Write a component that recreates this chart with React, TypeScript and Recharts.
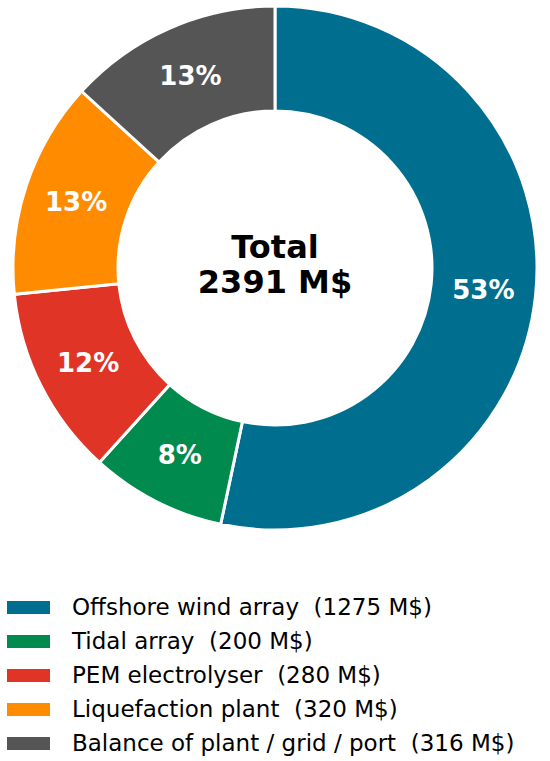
import { Cell, Pie, PieChart } from "recharts";

const categories = [
  "Offshore wind array",
  "Tidal array",
  "PEM electrolyser",
  "Liquefaction plant",
  "Balance of plant / grid / port",
];
const costs = [1275, 200, 280, 320, 316];
const colors = ["#006f8f", "#008a4e", "#e03426", "#ff8c00", "#555555"];

const total = costs.reduce((a, b) => a + b, 0);
const data = categories.map((name, i) => ({ name, value: costs[i] }));

const FONT = "'DejaVu Sans', sans-serif";
const RAD = Math.PI / 180;
const CX = 275;
const CY = 268;

// percentage in the middle of each ring segment
function SliceLabel(props: any) {
  const { cx, cy, midAngle, innerRadius, outerRadius, percent } = props;
  const r = (innerRadius + outerRadius) / 2;
  const x = cx + r * Math.cos(-midAngle * RAD);
  const y = cy + r * Math.sin(-midAngle * RAD);
  return (
    <text
      x={x}
      y={y}
      fill="#ffffff"
      fontFamily={FONT}
      fontWeight="bold"
      fontSize={26}
      textAnchor="middle"
      dominantBaseline="central"
    >
      {Math.round(percent * 100)}%
    </text>
  );
}

export default function App() {
  return (
    <div
      style={{
        position: "absolute",
        left: 0,
        top: 0,
        width: 550,
        height: 761,
        background: "#fff",
        fontFamily: FONT,
      }}
    >
      <PieChart width={550} height={540} margin={{ top: 0, right: 0, bottom: 0, left: 0 }}>
        <Pie
          data={data}
          dataKey="value"
          nameKey="name"
          cx={CX}
          cy={CY}
          innerRadius={157}
          outerRadius={262}
          startAngle={90}
          endAngle={-270}
          stroke="#ffffff"
          strokeWidth={3}
          label={SliceLabel}
          labelLine={false}
          isAnimationActive={false}
        >
          {data.map((d, i) => (
            <Cell key={d.name} fill={colors[i]} />
          ))}
        </Pie>
      </PieChart>
      {/* total in the hole of the donut */}
      <div
        style={{
          position: "absolute",
          left: CX - 120,
          top: CY - 38,
          width: 240,
          textAlign: "center",
          fontSize: 32,
          fontWeight: "bold",
          lineHeight: "35px",
          color: "#000",
        }}
      >
        <div>Total</div>
        <div>{total} M$</div>
      </div>
      <div style={{ position: "absolute", left: 7, top: 590 }}>
        {data.map((d, i) => (
          <div
            key={d.name}
            style={{ display: "flex", alignItems: "center", height: 34 }}
          >
            <div style={{ width: 43, height: 13, background: colors[i] }} />
            <span
              style={{
                marginLeft: 22,
                fontSize: 23,
                color: "#000",
                whiteSpace: "pre",
              }}
            >
              {`${d.name}  (${d.value} M$)`}
            </span>
          </div>
        ))}
      </div>
    </div>
  );
}
